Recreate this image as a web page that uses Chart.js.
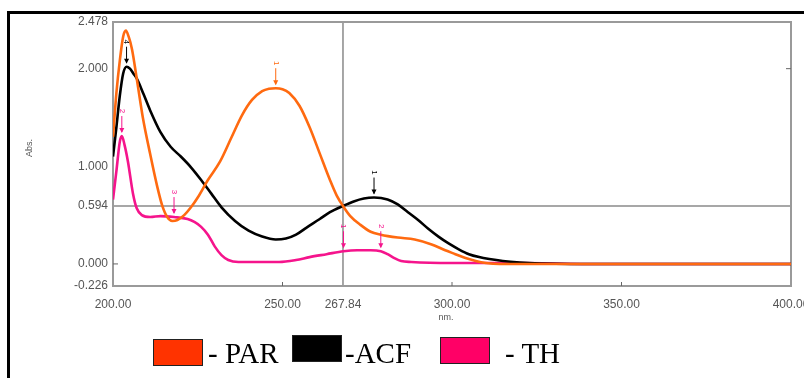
<!DOCTYPE html>
<html>
<head>
<meta charset="utf-8">
<script src="https://cdn.jsdelivr.net/npm/chart.js@4.4.0/dist/chart.umd.min.js"></script>
<style>
  html, body { margin: 0; padding: 0; background: #fff; }
  #wrap { position: relative; width: 804px; height: 378px; overflow: hidden; }
  #frame { position: absolute; left: 7px; top: 11px; width: 820px; height: 400px; border-top: 3px solid #000; border-left: 3px solid #000; }
  #spectra { position: absolute; left: 0; top: 0; }
  .swatch { position: absolute; width: 50px; height: 27px; box-sizing: border-box; }
  .name { position: absolute; font-family: "Liberation Serif", "Times New Roman", serif; font-size: 29px; line-height: 29px; color: #000; white-space: pre; }
</style>
</head>
<body>
<div id="wrap">
  <div id="frame"></div>
  <canvas id="spectra" width="804" height="378"></canvas>
</div>
<script>
// Spectra (wavelength in nm, absorbance)
const parNm = [200, 201, 202, 203, 203.8, 204.6, 205.6, 207, 208.8, 211, 213, 214.5, 216, 217.5, 219, 221, 223, 225, 228, 231.6, 235, 238, 241, 244, 246, 248, 250, 252, 255, 258, 261, 264, 266, 267.84, 270, 273, 276, 279, 284, 289, 294, 298, 301, 304, 307, 310, 314, 320, 400]
const parAbs = [1.3, 1.75, 2.08, 2.33, 2.39, 2.33, 2.2, 1.9, 1.5, 1.12, 0.8, 0.6, 0.48, 0.44, 0.45, 0.5, 0.58, 0.68, 0.86, 1.05, 1.3, 1.52, 1.68, 1.77, 1.795, 1.8, 1.79, 1.75, 1.62, 1.4, 1.13, 0.86, 0.7, 0.594, 0.49, 0.4, 0.33, 0.3, 0.27, 0.25, 0.2, 0.14, 0.1, 0.06, 0.03, 0.01, 0, 0, 0]

const acfNm = [200, 201, 202, 203, 204, 205, 206, 207, 209, 211, 214, 217, 220, 223, 226, 229, 232, 236, 240, 244, 248, 251, 254, 257, 261, 264, 267.84, 271, 274, 277, 281, 284, 287, 290, 293, 296, 299, 302, 305, 308, 311, 315, 320, 326, 335, 400]
const acfAbs = [1.1, 1.4, 1.72, 1.95, 2.02, 2.0, 1.95, 1.9, 1.74, 1.57, 1.35, 1.2, 1.1, 0.99, 0.86, 0.72, 0.58, 0.44, 0.34, 0.28, 0.25, 0.26, 0.3, 0.37, 0.46, 0.53, 0.594, 0.64, 0.67, 0.68, 0.66, 0.61, 0.53, 0.45, 0.36, 0.28, 0.21, 0.15, 0.1, 0.07, 0.05, 0.03, 0.015, 0.005, 0, 0]

const thNm = [200, 201, 202, 202.6, 203.4, 204.4, 205.9, 207, 208.5, 211, 214, 218, 222, 224, 226, 228, 230, 232, 234, 237, 249, 254, 258, 263, 268, 272, 276, 279, 281, 283, 285, 288, 300, 320, 340, 400]
const thAbs = [0.66, 0.95, 1.25, 1.31, 1.22, 1.05, 0.72, 0.57, 0.5, 0.48, 0.49, 0.48, 0.46, 0.43, 0.38, 0.3, 0.18, 0.09, 0.04, 0.02, 0.02, 0.04, 0.07, 0.1, 0.13, 0.14, 0.14, 0.13, 0.1, 0.06, 0.03, 0.02, 0.01, 0.01, 0, 0]

const seriesNames = ["- PAR", "-ACF", "- TH"]
const lineColors = ["#ff6a10", "#000000", "#f5148c"]
const keyColors = ["#ff3300", "#000000", "#ff0066"]

// Axis ticks
const xTicks = [200, 250, 267.84, 300, 350, 400]
const yTicks = [-0.226, 0, 0.594, 1, 2, 2.478]
const crossX = 267.84
const crossY = 0.594

// Peak pick markers: series index, wavelength, label
const markSeries = [0, 1, 2, 2, 2, 1, 2]
const markNm = [248, 277, 218, 268, 279, 204, 202.6]
const markText = ["1", "1", "3", "1", "2", "4", "2"]

const toPoints = (xs, ys) => xs.map((x, i) => ({ x: x, y: ys[i] }))
const seriesData = [toPoints(parNm, parAbs), toPoints(acfNm, acfAbs), toPoints(thNm, thAbs)]

// frame + crosshair under the curves
const framePlugin = {
  id: "frame",
  beforeDatasetsDraw(chart) {
    const { ctx, chartArea: a, scales } = chart
    const cx = scales.x.getPixelForValue(crossX)
    const cy = scales.y.getPixelForValue(crossY)
    ctx.save()
    ctx.strokeStyle = "#8a8a8a"
    ctx.lineWidth = 1.5
    ctx.beginPath()
    ctx.moveTo(cx, a.top)
    ctx.lineTo(cx, a.bottom)
    ctx.moveTo(a.left, cy)
    ctx.lineTo(a.right, cy)
    ctx.stroke()

    ctx.strokeStyle = "#9a9a9a"
    ctx.lineWidth = 2
    ctx.strokeRect(a.left, a.top, a.right - a.left, a.bottom - a.top)

    // small inner tick marks
    ctx.lineWidth = 1
    ctx.strokeStyle = "#666"
    ctx.beginPath()
    ;[250, 300, 350].forEach((v) => {
      const px = scales.x.getPixelForValue(v)
      ctx.moveTo(px, a.bottom)
      ctx.lineTo(px, a.bottom - 4)
    })
    const y0 = scales.y.getPixelForValue(0)
    ctx.moveTo(a.left, y0)
    ctx.lineTo(a.left + 5, y0)
    const y2 = scales.y.getPixelForValue(2)
    ctx.moveTo(a.right, y2)
    ctx.lineTo(a.right - 5, y2)
    ctx.stroke()
    ctx.restore()
  },
  afterDraw(chart) {
    const { ctx } = chart
    ctx.save()
    ctx.fillStyle = "#555"
    ctx.font = "9px 'Liberation Sans', Arial, sans-serif"
    ctx.textAlign = "center"
    ctx.textBaseline = "middle"
    ctx.fillText("nm.", 446, 318)
    ctx.translate(30, 148)
    ctx.rotate(-Math.PI / 2)
    ctx.fillText("Abs.", 0, 0)
    ctx.restore()
  },
}

// peak arrows above the curves
const markPlugin = {
  id: "marks",
  afterDatasetsDraw(chart) {
    const { ctx, scales } = chart
    ctx.save()
    ctx.lineWidth = 1
    ctx.font = "8px 'Liberation Sans', Arial, sans-serif"
    ctx.textAlign = "center"
    ctx.textBaseline = "middle"
    markNm.forEach((nm, i) => {
      const s = markSeries[i]
      const pts = seriesData[s]
      let best = pts[0]
      pts.forEach((p) => {
        if (Math.abs(p.x - nm) < Math.abs(best.x - nm)) best = p
      })
      const px = scales.x.getPixelForValue(best.x)
      const py = scales.y.getPixelForValue(best.y)
      const col = lineColors[s]
      ctx.strokeStyle = col
      ctx.fillStyle = col
      ctx.beginPath()
      ctx.moveTo(px, py - 20)
      ctx.lineTo(px, py - 4)
      ctx.stroke()
      ctx.beginPath()
      ctx.moveTo(px - 2.5, py - 8)
      ctx.lineTo(px, py - 3)
      ctx.lineTo(px + 2.5, py - 8)
      ctx.closePath()
      ctx.fill()
      ctx.save()
      ctx.translate(px, py - 25)
      ctx.rotate(Math.PI / 2)
      ctx.fillText(markText[i], 0, 0)
      ctx.restore()
    })
    ctx.restore()
  },
}

const tickFont = { family: "'Liberation Sans', Arial, sans-serif", size: 12 }

const chart = new Chart(document.getElementById("spectra"), {
  type: "line",
  data: {
    datasets: seriesData.map((d, i) => ({
      label: seriesNames[i],
      data: d,
      borderColor: lineColors[i],
      borderWidth: 2.6,
      pointRadius: 0,
      fill: false,
      cubicInterpolationMode: "monotone",
    })),
  },
  options: {
    responsive: false,
    animation: false,
    layout: { padding: { top: 22, right: 13, left: 0, bottom: 0 } },
    plugins: { legend: { display: false }, tooltip: { enabled: false } },
    scales: {
      x: {
        type: "linear",
        min: 200,
        max: 400,
        grid: { display: false, drawTicks: false },
        border: { display: false },
        afterBuildTicks: (s) => {
          s.ticks = xTicks.map((v) => ({ value: v }))
        },
        afterFit: (s) => {
          s.height = 92
          s.paddingLeft = 0
          s.paddingRight = 0
        },
        ticks: {
          autoSkip: false,
          maxRotation: 0,
          padding: 11,
          color: "#555",
          font: tickFont,
          callback: (v) => Number(v).toFixed(2),
        },
      },
      y: {
        type: "linear",
        min: -0.226,
        max: 2.478,
        grid: { display: false, drawTicks: false },
        border: { display: false },
        afterBuildTicks: (s) => {
          s.ticks = yTicks.map((v) => ({ value: v }))
        },
        afterFit: (s) => {
          s.width = 113
          s.paddingTop = 0
          s.paddingBottom = 0
        },
        ticks: {
          autoSkip: false,
          padding: 5,
          color: "#555",
          font: tickFont,
          callback: (v) => Number(v).toFixed(3),
        },
      },
    },
  },
  plugins: [framePlugin, markPlugin],
})

// Legend row under the chart
const keyBoxes = [[153, 339], [292, 335], [440, 337]]
const keyText = [[208, 339], [345, 339], [505, 339]]
const wrap = document.getElementById("wrap")
seriesNames.forEach((name, i) => {
  const box = document.createElement("div")
  box.className = "swatch"
  box.style.left = keyBoxes[i][0] + "px"
  box.style.top = keyBoxes[i][1] + "px"
  box.style.background = keyColors[i]
  box.style.border = "1.5px solid #222"
  wrap.appendChild(box)
  const txt = document.createElement("div")
  txt.className = "name"
  txt.style.left = keyText[i][0] + "px"
  txt.style.top = keyText[i][1] + "px"
  txt.textContent = name
  wrap.appendChild(txt)
})
</script>
</body>
</html>
